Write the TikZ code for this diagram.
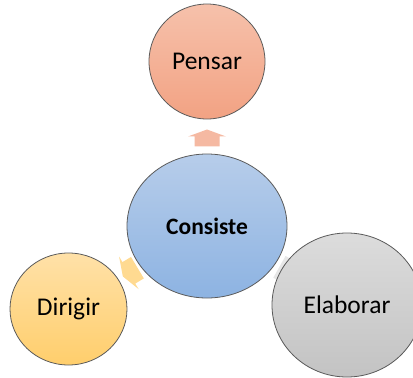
\documentclass[tikz,border=0pt]{standalone}
\usepackage{fontspec}
\setmainfont{Carlito}
\usetikzlibrary{shapes.geometric}

\definecolor{pensTop}{HTML}{F6C1AB}
\definecolor{pensBot}{HTML}{F2A283}
\definecolor{consTop}{HTML}{B7CDEA}
\definecolor{consBot}{HTML}{8DB3E2}
\definecolor{dirTop}{HTML}{FFE1A8}
\definecolor{dirBot}{HTML}{FFCE6C}
\definecolor{elabTop}{HTML}{DCDCDC}
\definecolor{elabBot}{HTML}{C3C3C3}
\definecolor{rim}{HTML}{5A5A5A}

\tikzset{
	bubble/.style={ellipse, draw=rim, line width=0.8pt, inner sep=0pt,
		font=\fontsize{25.5}{30}\selectfont},
	outarrow/.pic={
		\fill[#1] (-8.5,-12.5) -- (1.5,-12.5) -- (1.5,-19) -- (8.5,0)
			-- (1.5,19) -- (1.5,12.5) -- (-8.5,12.5) -- cycle;
	}
}

\begin{document}
\begin{tikzpicture}[x=1pt,y=-1pt]
		\useasboundingbox (0,0) rectangle (413,378);
		\clip (0,0) rectangle (413,378);
		
		% positions only, drawn below
		\coordinate (c0) at (207,226);
		\coordinate (c1) at (207,61.5);
		\coordinate (c2) at (68.5,309);
		\coordinate (c3) at (347,305);
		
		\path (c0) -- (c1) pic[pos=0.535, sloped, allow upside down]{outarrow={pensBot!75!white}};
		\path (c0) -- (c2) pic[pos=0.555, sloped, allow upside down]{outarrow={dirBot!75!white}};
		\path (c0) -- (c3) pic[pos=0.57, sloped, allow upside down]{outarrow={elabTop!70!white}};
		
		\node[bubble, minimum width=116pt, minimum height=115pt,
			top color=pensTop, bottom color=pensBot] (pens) at (c1) {Pensar};
		\node[bubble, minimum width=160pt, minimum height=144pt,
			top color=consTop, bottom color=consBot,
			font=\fontsize{23.5}{28}\selectfont\bfseries] (cons) at (c0) {Consiste};
		\node[bubble, minimum width=117pt, minimum height=112pt,
			top color=dirTop, bottom color=dirBot] (dirig) at (c2) {Dirigir};
		\node[bubble, minimum width=150pt, minimum height=144pt,
			top color=elabTop, bottom color=elabBot] (elab) at (c3) {Elaborar};
	\end{tikzpicture}
\end{document}
